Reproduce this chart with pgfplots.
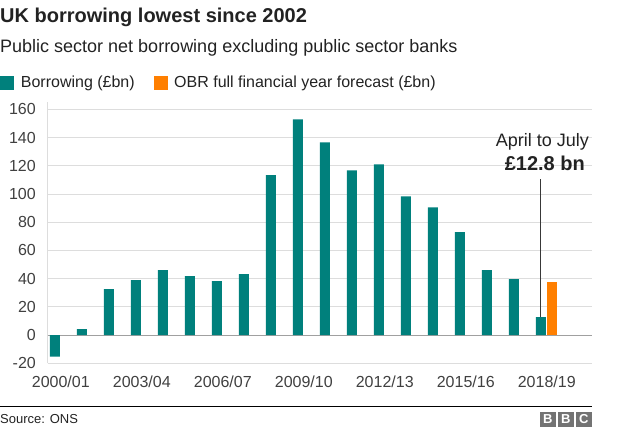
\documentclass[border=0pt]{standalone}
\usepackage{pgfplots}
\pgfplotsset{compat=1.18}
\usepackage{fontspec}
\setmainfont{Liberation Sans}
\definecolor{bbcteal}{RGB}{0,128,124}
\definecolor{bbcorange}{RGB}{255,127,0}
\definecolor{txt}{RGB}{34,34,34}
\definecolor{ticktxt}{RGB}{64,64,64}
\definecolor{gridc}{RGB}{221,221,221}
\definecolor{zeroc}{RGB}{160,160,160}
\definecolor{logo}{RGB}{115,115,115}
\begin{document}
\begin{tikzpicture}[x=1pt,y=1pt]
\useasboundingbox (0,0) rectangle (624,-431);
% titles
\node[anchor=base west, inner sep=0, font=\fontsize{20}{24}\selectfont\bfseries, text=txt] at (0,-22.7) {UK borrowing lowest since 2002};
\node[anchor=base west, inner sep=0, font=\fontsize{18}{22}\selectfont, text=txt] at (0,-52.7) {Public sector net borrowing excluding public sector banks};
% legend
\fill[bbcteal] (0,-76) rectangle (14,-89.5);
\node[anchor=base west, inner sep=0, font=\fontsize{16}{19}\selectfont, text=txt] at (20.7,-87.3) {Borrowing (£bn)};
\fill[bbcorange] (154,-76) rectangle (167.7,-89.5);
\node[anchor=base west, inner sep=0, font=\fontsize{16}{19}\selectfont, text=txt] at (174,-87.3) {OBR full financial year forecast (£bn)};
\begin{axis}[
  at={(47.7pt,-363.3pt)}, anchor=south west,
  scale only axis, width=544pt, height=261pt,
  xmin=-0.27, xmax=19.88, ymin=-20, ymax=165,
  axis x line=bottom, axis y line=left,
  x axis line style={draw=none},
  y axis line style={draw=gridc, line width=0.8pt, -},
  ytick={-20,0,20,40,60,80,100,120,140,160},
  ymajorgrids, grid style={draw=gridc, line width=0.8pt},
  extra y ticks={0}, extra y tick labels={},
  extra y tick style={grid style={draw=zeroc, line width=0.8pt}},
  xtick={0.215,3.215,6.215,9.215,12.215,15.215,18.215},
  xticklabels={2000/01,2003/04,2006/07,2009/10,2012/13,2015/16,2018/19},
  major tick length=0pt,
  xticklabel style={font=\fontsize{16}{19}\selectfont, text=ticktxt, anchor=base, inner sep=0pt, yshift=-24.4pt},
  yticklabel style={font=\fontsize{16}{19}\selectfont, text=ticktxt, anchor=east, inner sep=0pt, xshift=-11.7pt},
  /pgf/number format/assume math mode=true,
  clip=false,
]
\addplot[ybar, bar width=10pt, bar shift=0pt, fill=bbcteal, draw=none] coordinates {
(0,-15.3) (1,4.2) (2,32.6) (3,38.9) (4,46.0) (5,41.8) (6,38.2) (7,43.2) (8,113.3) (9,152.9)
(10,136.6) (11,116.8) (12,121.0) (13,98.4) (14,90.6) (15,72.9) (16,46.0) (17,39.6) (18,12.8)
};
\addplot[ybar, bar width=10pt, bar shift=0pt, fill=bbcorange, draw=none] coordinates {(18.41,37.5)};
\draw[draw=txt!90, line width=0.9pt] (axis cs:18,12.8) -- (axis cs:18,110.4);
\end{axis}
% annotation
\node[anchor=base east, inner sep=0, font=\fontsize{18}{22}\selectfont, text=txt] at (589,-146.7) {April to July};
\node[anchor=base east, inner sep=0, font=\fontsize{20}{24}\selectfont\bfseries, text=txt] at (585,-170) {£12.8 bn};
% footer
\draw[black, line width=1.2pt] (0,-406.7) -- (591.7,-406.7);
\node[anchor=base west, inner sep=0, font=\fontsize{13}{15}\selectfont, text=txt] at (0,-423) {Source: ONS};
\foreach \i/\l in {0/B,1/B,2/C} {
  \fill[logo] (540+\i*18,-412.3) rectangle (555.7+\i*18,-426.7);
  \node[text=white, font=\fontsize{13}{15}\selectfont\bfseries, inner sep=0] at (547.85+\i*18,-419.5) {\l};
}
\end{tikzpicture}
\end{document}
